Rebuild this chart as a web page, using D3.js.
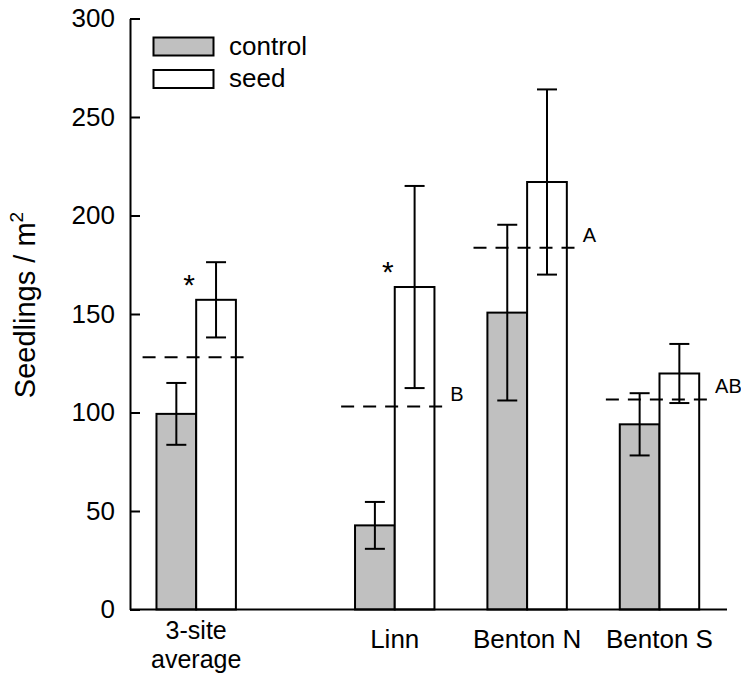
<!DOCTYPE html>
<html>
<head>
<meta charset="utf-8">
<script src="https://cdn.jsdelivr.net/npm/d3@7"></script>
<style>
  html, body { margin: 0; padding: 0; background: #fff; }
  svg { display: block; font-family: Arial, "Liberation Sans", sans-serif; }
</style>
</head>
<body>
<svg id="chart" width="741" height="676"></svg>
<script>
// ---- data ----
const categories = ["3-site average", "Linn", "Benton N", "Benton S"];
const control = [99.3, 42.7, 150.7, 94.0];
const controlErr = [15.7, 11.9, 44.6, 15.8];
const seed = [157.2, 163.7, 217.0, 119.8];
const seedErr = [19.1, 51.3, 47.0, 15.0];
const pooledMean = [128.1, 103.0, 183.6, 106.6];
const groupLetters = ["", "B", "A", "AB"];
const seedSignif = ["*", "*", "", ""];
const yTicks = [0, 50, 100, 150, 200, 250, 300];
const seriesNames = ["control", "seed"];
const seriesFill = ["#c0c0c0", "#ffffff"];

// ---- layout ----
const svg = d3.select("#chart");
const y = d3.scaleLinear().domain([0, 300]).range([609.5, 18.5]);
const x = d3.scaleLinear().domain([-0.5, 4.01]).range([130, 727]);
// first group separated from the sites by an extra half slot
const groupPos = i => (i === 0 ? 0 : i + 0.5);
const barW = 0.3;
const lineHalf = 0.405;
const SW = 2;

const groups = categories.map((c, i) => ({
  name: c, i, pos: groupPos(i),
  control: control[i], controlErr: controlErr[i],
  seed: seed[i], seedErr: seedErr[i],
  pooled: pooledMean[i], letter: groupLetters[i], sig: seedSignif[i]
}));

// bars
const bars = [];
groups.forEach(g => {
  bars.push({ x0: g.pos - barW, x1: g.pos, v: g.control, e: g.controlErr, fill: seriesFill[0] });
  bars.push({ x0: g.pos, x1: g.pos + barW, v: g.seed, e: g.seedErr, fill: seriesFill[1] });
});

svg.append("g").selectAll("rect").data(bars).join("rect")
  .attr("x", d => x(d.x0))
  .attr("y", d => y(d.v))
  .attr("width", d => x(d.x1) - x(d.x0))
  .attr("height", d => y(0) - y(d.v))
  .attr("fill", d => d.fill)
  .attr("stroke", "#000")
  .attr("stroke-width", SW);

// dashed pooled means
svg.append("g").selectAll("line").data(groups).join("line")
  .attr("x1", d => x(d.pos - lineHalf))
  .attr("x2", d => x(d.pos + lineHalf))
  .attr("y1", d => y(d.pooled))
  .attr("y2", d => y(d.pooled))
  .attr("stroke", "#000")
  .attr("stroke-width", SW)
  .attr("stroke-dasharray", "13,9");

// error bars
const eb = svg.append("g").attr("stroke", "#000").attr("stroke-width", SW);
bars.forEach(d => {
  const cx = (x(d.x0) + x(d.x1)) / 2;
  eb.append("line").attr("x1", cx).attr("x2", cx).attr("y1", y(d.v + d.e)).attr("y2", y(d.v - d.e));
  eb.append("line").attr("x1", cx - 10).attr("x2", cx + 10).attr("y1", y(d.v + d.e)).attr("y2", y(d.v + d.e));
  eb.append("line").attr("x1", cx - 10).attr("x2", cx + 10).attr("y1", y(d.v - d.e)).attr("y2", y(d.v - d.e));
});

// letters
svg.append("g").selectAll("text").data(groups.filter(g => g.letter)).join("text")
  .attr("x", d => x(d.pos + lineHalf) + 2)
  .attr("y", d => y(d.pooled) - 6)
  .attr("font-size", 20)
  .text(d => d.letter);

// significance asterisks
svg.append("g").selectAll("text").data(groups.filter(g => g.sig)).join("text")
  .attr("x", d => x(d.pos) - 7)
  .attr("y", d => y(d.seed) - 5)
  .attr("text-anchor", "middle")
  .attr("font-size", 30)
  .text(d => d.sig);

// y axis
const yAxis = d3.axisLeft(y).tickValues(yTicks).tickSizeInner(-10).tickSizeOuter(0).tickPadding(15);
const yg = svg.append("g").attr("transform", `translate(${x(-0.5)},0)`).call(yAxis);
yg.select(".domain").attr("stroke-width", SW);
yg.selectAll(".tick line").attr("stroke-width", SW);
yg.selectAll(".tick text").attr("font-size", 26).attr("font-family", "Arial, 'Liberation Sans', sans-serif").attr("fill", "#000");

// x axis line
svg.append("line")
  .attr("x1", x(-0.5)).attr("x2", x(4.01))
  .attr("y1", y(0)).attr("y2", y(0))
  .attr("stroke", "#000").attr("stroke-width", SW);

// x labels
const xl = svg.append("g").attr("text-anchor", "middle");
groups.forEach(g => {
  if (g.name === "3-site average") {
    xl.append("text").attr("x", x(g.pos)).attr("y", 639).attr("font-size", 25).text("3-site");
    xl.append("text").attr("x", x(g.pos)).attr("y", 668).attr("font-size", 25).text("average");
  } else {
    xl.append("text").attr("x", x(g.pos)).attr("y", 648).attr("font-size", 26).text(g.name);
  }
});

// y label
const yl = svg.append("text")
  .attr("transform", "translate(35,305) rotate(-90)")
  .attr("text-anchor", "middle")
  .attr("font-size", 29);
yl.append("tspan").text("Seedlings / m");
yl.append("tspan").attr("font-size", 19).attr("dy", -12).text("2");

// legend
const lg = svg.append("g");
seriesNames.forEach((n, k) => {
  const top = k === 0 ? 37.5 : 70;
  lg.append("rect").attr("x", 153.5).attr("y", top).attr("width", 60).attr("height", 18)
    .attr("fill", seriesFill[k]).attr("stroke", "#000").attr("stroke-width", SW);
  lg.append("text").attr("x", 229).attr("y", top + 17).attr("font-size", 26).text(n);
});
</script>
</body>
</html>
